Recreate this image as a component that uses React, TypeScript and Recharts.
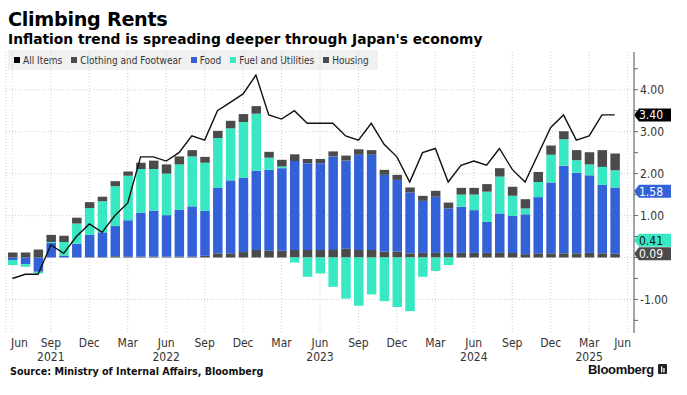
import React from "react";
import { ComposedChart, Bar, Line, XAxis, YAxis, ReferenceLine, CartesianGrid } from "recharts";

// ---------- DATA ----------
const months = [
  "2021-06", "2021-07", "2021-08", "2021-09", "2021-10", "2021-11", "2021-12",
  "2022-01", "2022-02", "2022-03", "2022-04", "2022-05", "2022-06", "2022-07", "2022-08", "2022-09", "2022-10", "2022-11", "2022-12",
  "2023-01", "2023-02", "2023-03", "2023-04", "2023-05", "2023-06", "2023-07", "2023-08", "2023-09", "2023-10", "2023-11", "2023-12",
  "2024-01", "2024-02", "2024-03", "2024-04", "2024-05", "2024-06", "2024-07", "2024-08", "2024-09", "2024-10", "2024-11", "2024-12",
  "2025-01", "2025-02", "2025-03", "2025-04", "2025-05", "2025-06",
];

const allItems = [
  -0.5, -0.4, -0.4, 0.3, 0.1, 0.5, 0.8,
  0.6, 1.0, 1.3, 2.4, 2.4, 2.3, 2.5, 2.9, 2.8, 3.5, 3.7, 3.9,
  4.35, 3.4, 3.3, 3.5, 3.2, 3.2, 3.2, 2.9, 2.8, 3.2, 2.7, 2.4,
  1.8, 2.5, 2.6, 1.8, 2.2, 2.3, 2.2, 2.6, 2.1, 1.8, 2.45, 3.1,
  3.4, 2.8, 2.9, 3.4, 3.4, null,
];

const clothing = [
  0, 0, 0, 0, 0, 0, 0.01,
  0.01, 0.03, 0.02, 0.02, 0.02, 0.02, 0.02, 0.02, 0.04, 0.1, 0.1, 0.13,
  0.18, 0.16, 0.16, 0.18, 0.18, 0.18, 0.18, 0.21, 0.18, 0.18, 0.14, 0.14,
  0.1, 0.11, 0.11, 0.11, 0.11, 0.11, 0.11, 0.11, 0.11, 0.08, 0.1, 0.1,
  0.1, 0.1, 0.11, 0.1, 0.09, null,
];

const food = [
  -0.06, -0.16, -0.34, 0.35, 0.05, 0.33, 0.53,
  0.59, 0.72, 0.87, 1.05, 1.1, 0.99, 1.12, 1.2, 1.07, 1.56, 1.74, 1.77,
  1.89, 1.93, 1.97, 2.12, 2.07, 2.07, 2.23, 2.1, 2.27, 2.27, 1.83, 1.71,
  1.45, 1.24, 1.34, 1.06, 1.1, 1.02, 0.74, 0.94, 0.88, 0.95, 1.34, 1.69,
  2.09, 1.92, 1.85, 1.63, 1.58, null,
];

const fuel = [
  -0.12, -0.06, -0.04, 0.02, 0.32, 0.48, 0.64,
  0.74, 0.95, 1.06, 1.04, 0.99, 0.99, 1.08, 1.19, 1.15, 1.19, 1.24, 1.33,
  1.36, 0.29, 0.04, -0.12, -0.46, -0.38, -0.7, -0.98, -1.15, -0.88, -1.04, -1.18,
  -1.28, -0.46, -0.32, -0.18, 0.29, 0.37, 0.72, 0.88, 0.48, 0.14, 0.36, 0.66,
  0.63, 0.3, 0.26, 0.43, 0.41, null,
];

const housing = [
  0.12, 0.12, 0.19, 0.17, 0.15, 0.14, 0.14,
  0.11, 0.12, 0.1, 0.15, 0.2, 0.22, 0.19, 0.15, 0.14, 0.17, 0.18, 0.19,
  0.18, 0.14, 0.16, 0.16, 0.1, 0.1, 0.12, 0.12, 0.13, 0.11, 0.12, 0.12,
  0.12, 0.12, 0.14, 0.14, 0.16, 0.16, 0.18, 0.2, 0.22, 0.22, 0.24, 0.22,
  0.19, 0.24, 0.29, 0.4, 0.4, null,
];

const MONTH_ABBR = ["Jan", "Feb", "Mar", "Apr", "May", "Jun", "Jul", "Aug", "Sep", "Oct", "Nov", "Dec"];
const tickMonthNums = ["03", "06", "09", "12"];
const yearTickMonths = ["2021-09", "2022-06", "2023-06", "2024-06", "2025-03"];
const yearTickLabels = ["2021", "2022", "2023", "2024", "2025"];
const yTicks = [-1.5, -1, -0.5, 0, 0.5, 1, 1.5, 2, 2.5, 3, 3.5, 4, 4.5];
const yLabelValues = [-1, 1, 2, 3, 4]; // 0.00 is hidden behind the value tags
const yGridValues = [-1, 0, 1, 2, 3, 4];

const seriesNames = ["All Items", "Clothing and Footwear", "Food", "Fuel and Utilities", "Housing"];
const COLORS = {
  all: "#000000",
  clothing: "#4b4b4b",
  food: "#3261d8",
  fuel: "#38e8c2",
  housing: "#4b4b4b",
};

const data = months.map((m, i) => ({
  month: m,
  allItems: allItems[i],
  clothing: clothing[i],
  food: food[i],
  fuel: fuel[i],
  housing: housing[i],
}));

const quarterTicks = months.filter((m) => tickMonthNums.includes(m.slice(5)));
const lastIdx = 47;

const AXIS_FONT = "'DejaVu Sans Condensed', 'Liberation Sans', Arial, sans-serif";
const HEAD_FONT = "'DejaVu Sans', Verdana, sans-serif";

// ---------- TICKS ----------
function MonthTick(props: any) {
  const { x, y, payload } = props;
  const key: string = payload.value;
  const mon = MONTH_ABBR[parseInt(key.slice(5), 10) - 1];
  let dx = 0;
  if (key === months[0]) dx = 7;
  if (key === months[months.length - 1]) dx = -5;
  const yi = yearTickMonths.indexOf(key);
  return (
    <g>
      <text x={x + dx} y={y + 14} textAnchor="middle" fontSize={12} fill="#333" fontFamily={AXIS_FONT}>
        {mon}
      </text>
      {yi >= 0 && (
        <text x={x + dx} y={y + 27.5} textAnchor="middle" fontSize={12} fill="#333" fontFamily={AXIS_FONT}>
          {yearTickLabels[yi]}
        </text>
      )}
    </g>
  );
}

function ValueTick(props: any) {
  const { x, y, payload } = props;
  const v: number = payload.value;
  const labelled = yLabelValues.some((t) => Math.abs(t - v) < 1e-9);
  return (
    <g>
      <line x1={x} x2={x + 4} y1={y} y2={y} stroke="#666" strokeWidth={1} />
      {labelled && (
        <text x={x + 6} y={y + 4.2} fontSize={12} fill="#333" fontFamily={AXIS_FONT}>
          {v.toFixed(2)}
        </text>
      )}
    </g>
  );
}

function Tag(props: any) {
  const { viewBox, text, bg, fg } = props;
  if (!viewBox) return null;
  const x = viewBox.x + viewBox.width;
  const y = viewBox.y;
  const h = 6.5;
  return (
    <g>
      <path d={`M${x} ${y} L${x + 5} ${y - h} L${x + 37} ${y - h} L${x + 37} ${y + h} L${x + 5} ${y + h} Z`} fill={bg} />
      <text x={x + 5} y={y + 4.3} fontSize={12} fill={fg} fontFamily={AXIS_FONT}>
        {text}
      </text>
    </g>
  );
}

function LegendBox() {
  const swatches = [COLORS.all, COLORS.clothing, COLORS.food, COLORS.fuel, COLORS.housing];
  return (
    <div
      style={{
        position: "absolute",
        left: 8,
        top: 50,
        width: 370,
        height: 20,
        background: "#f1f1f1",
        display: "flex",
        alignItems: "center",
        paddingLeft: 6,
        boxSizing: "border-box",
        fontFamily: AXIS_FONT,
        fontSize: 10,
        color: "#333",
        whiteSpace: "nowrap",
      }}
    >
      {seriesNames.map((n, i) => (
        <div key={n} style={{ display: "flex", alignItems: "center", marginRight: 9 }}>
          <span style={{ width: 6, height: 6, background: swatches[i], display: "inline-block", marginRight: 3 }} />
          <span>{n}</span>
        </div>
      ))}
    </div>
  );
}

export default function App() {
  return (
    <div style={{ position: "absolute", left: 0, top: 0, width: 687, height: 395, background: "#fff", overflow: "hidden" }}>
      <LegendBox />
      <div style={{ position: "absolute", left: 0, top: 0 }}>
        <ComposedChart
          width={687}
          height={395}
          data={data}
          stackOffset="sign"
          margin={{ top: 52, right: 0, bottom: 0, left: 6 }}
        >
          <CartesianGrid
            stroke="#cfcfcf"
            strokeDasharray="1 2"
            horizontalValues={yGridValues}
          />
          <XAxis
            dataKey="month"
            ticks={quarterTicks}
            interval={0}
            axisLine={false}
            tickLine={false}
            tickSize={0}
            tickMargin={0}
            height={62}
            tick={<MonthTick />}
          />
          <YAxis
            orientation="right"
            width={53}
            domain={[-1.8, 4.9]}
            ticks={yTicks}
            interval={0}
            allowDataOverflow
            axisLine={{ stroke: "#8a8a8a", strokeWidth: 1.5 }}
            tickLine={false}
            tickSize={0}
            tickMargin={0}
            tick={<ValueTick />}
          />
          <Bar dataKey="clothing" stackId="s" fill={COLORS.clothing} barSize={9.5} isAnimationActive={false} />
          <Bar dataKey="food" stackId="s" fill={COLORS.food} barSize={9.5} isAnimationActive={false} />
          <Bar dataKey="fuel" stackId="s" fill={COLORS.fuel} barSize={9.5} isAnimationActive={false} />
          <Bar dataKey="housing" stackId="s" fill={COLORS.housing} barSize={9.5} isAnimationActive={false} />
          <Line
            dataKey="allItems"
            type="linear"
            stroke="#111"
            strokeWidth={1.4}
            dot={false}
            activeDot={false}
            isAnimationActive={false}
          />
          <ReferenceLine
            y={allItems[lastIdx] as number}
            stroke="none"
            label={<Tag text={(allItems[lastIdx] as number).toFixed(2)} bg="#000" fg="#fff" />}
          />
          <ReferenceLine
            y={food[lastIdx] as number}
            stroke="none"
            label={<Tag text={(food[lastIdx] as number).toFixed(2)} bg={COLORS.food} fg="#fff" />}
          />
          <ReferenceLine
            y={fuel[lastIdx] as number}
            stroke="none"
            label={<Tag text={(fuel[lastIdx] as number).toFixed(2)} bg={COLORS.fuel} fg="#111" />}
          />
          <ReferenceLine
            y={clothing[lastIdx] as number}
            stroke="none"
            label={<Tag text={(clothing[lastIdx] as number).toFixed(2)} bg="#4b4b4b" fg="#fff" />}
          />
        </ComposedChart>
      </div>
      <svg width={687} height={395} style={{ position: "absolute", left: 0, top: 0, pointerEvents: "none" }}>
        <text x={8} y={26} fontSize={19.2} fontWeight="bold" fontFamily={HEAD_FONT} fill="#000" letterSpacing={-0.3}>
          Climbing Rents
        </text>
        <text x={8} y={43.5} fontSize={13.8} fontWeight="bold" fontFamily={HEAD_FONT} fill="#000">
          Inflation trend is spreading deeper through Japan's economy
        </text>
        <text x={10} y={374.5} fontSize={9.6} fontWeight="bold" fontFamily={HEAD_FONT} fill="#111">
          Source: Ministry of Internal Affairs, Bloomberg
        </text>
        <text x={588} y={373.5} fontSize={13} fontWeight="bold" fontFamily="'Liberation Sans', Arial, sans-serif" fill="#111" letterSpacing={-0.3}>
          Bloomberg
        </text>
        <rect x={658} y={364} width={9} height={10} rx={1} fill="#222" />
        <rect x={661} y={366.5} width={1.3} height={6} fill="#fff" />
        <rect x={663.3} y={368} width={1.3} height={4.5} fill="#fff" />
      </svg>
    </div>
  );
}
